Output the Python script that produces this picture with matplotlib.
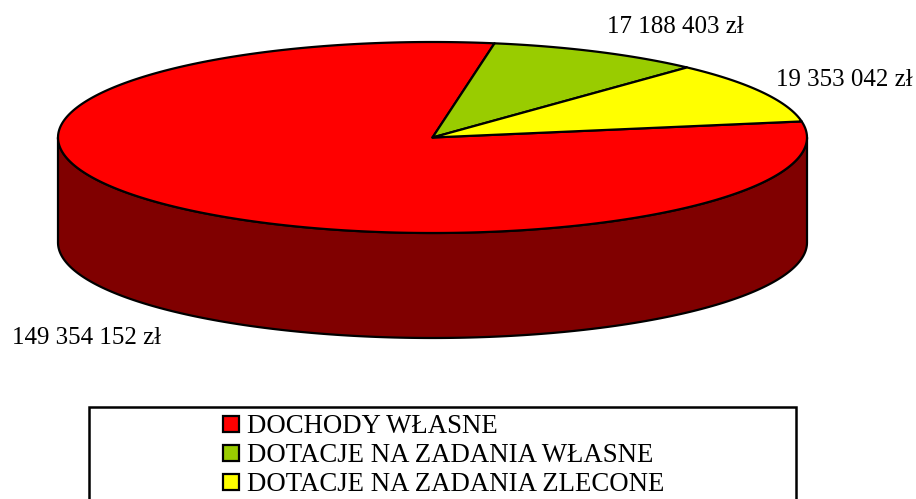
import numpy as np
import matplotlib
matplotlib.use("Agg")
import matplotlib.pyplot as plt
from matplotlib.patches import Polygon, Rectangle

categories = ["DOCHODY WŁASNE", "DOTACJE NA ZADANIA WŁASNE", "DOTACJE NA ZADANIA ZLECONE"]
values = [149354152, 17188403, 19353042]
value_labels = ["149 354 152 zł", "17 188 403 zł", "19 353 042 zł"]
top_colors = ["#FF0000", "#99CC00", "#FFFF00"]
side_colors = ["#800000", "#4D6600", "#808000"]

# geometry (pixels)
cx, cy, rx, ry, depth = 432.5, 137.5, 374.5, 95.5, 105
start_angle = 9.7  # degrees, slices go clockwise

fig = plt.figure(figsize=(9.16, 4.99), dpi=100)
ax = fig.add_axes([0, 0, 1, 1])
ax.set_xlim(0, 916)
ax.set_ylim(499, 0)
ax.axis("off")

def pt(theta_deg, dz=0.0):
    t = np.radians(theta_deg)
    return cx + rx * np.cos(t), cy - ry * np.sin(t) + dz

total = float(sum(values))
spans = [v / total * 360.0 for v in values]
bounds = []
a = start_angle
for s in spans:
    bounds.append((a - s, a))
    a -= s

lw = 1.6
# side walls (front half)
for (lo, hi), col in zip(bounds, side_colors):
    for k in range(-2, 2):
        f_lo, f_hi = 180 + 360 * k, 360 + 360 * k
        a0, a1 = max(lo, f_lo), min(hi, f_hi)
        if a1 > a0:
            th = np.linspace(a0, a1, 200)
            topx, topy = pt(th)
            botx, boty = pt(th[::-1], depth)
            xs = np.concatenate([topx, botx])
            ys = np.concatenate([topy, boty])
            ax.add_patch(Polygon(np.column_stack([xs, ys]), closed=True,
                                 facecolor=col, edgecolor="black", lw=lw,
                                 joinstyle="round"))

# top faces
for (lo, hi), col in zip(bounds, top_colors):
    th = np.linspace(lo, hi, 300)
    xs, ys = pt(th)
    xs = np.concatenate([[cx], xs])
    ys = np.concatenate([[cy], ys])
    ax.add_patch(Polygon(np.column_stack([xs, ys]), closed=True,
                         facecolor=col, edgecolor="black", lw=lw,
                         joinstyle="round"))

font = "Liberation Serif"
label_pos = [(12, 344, "left"), (607, 33, "left"), (776, 86, "left")]
for (x, y, ha), txt in zip(label_pos, value_labels):
    ax.text(x, y, txt, fontsize=18, family=font, ha=ha, va="baseline", color="black")

# legend
ax.add_patch(Rectangle((89, 407), 796 - 89, 120, facecolor="white",
                       edgecolor="black", lw=1.8, clip_on=True))
for i, (cat, col) in enumerate(zip(categories, top_colors)):
    top = 416 + 29 * i
    ax.add_patch(Rectangle((223, top), 16, 16, facecolor=col,
                           edgecolor="black", lw=1.6))
    ax.text(247, 433 + 29 * i, cat, fontsize=19.3, family=font,
            ha="left", va="baseline", color="black")

fig.savefig("out.png", dpi=100, facecolor="white")
